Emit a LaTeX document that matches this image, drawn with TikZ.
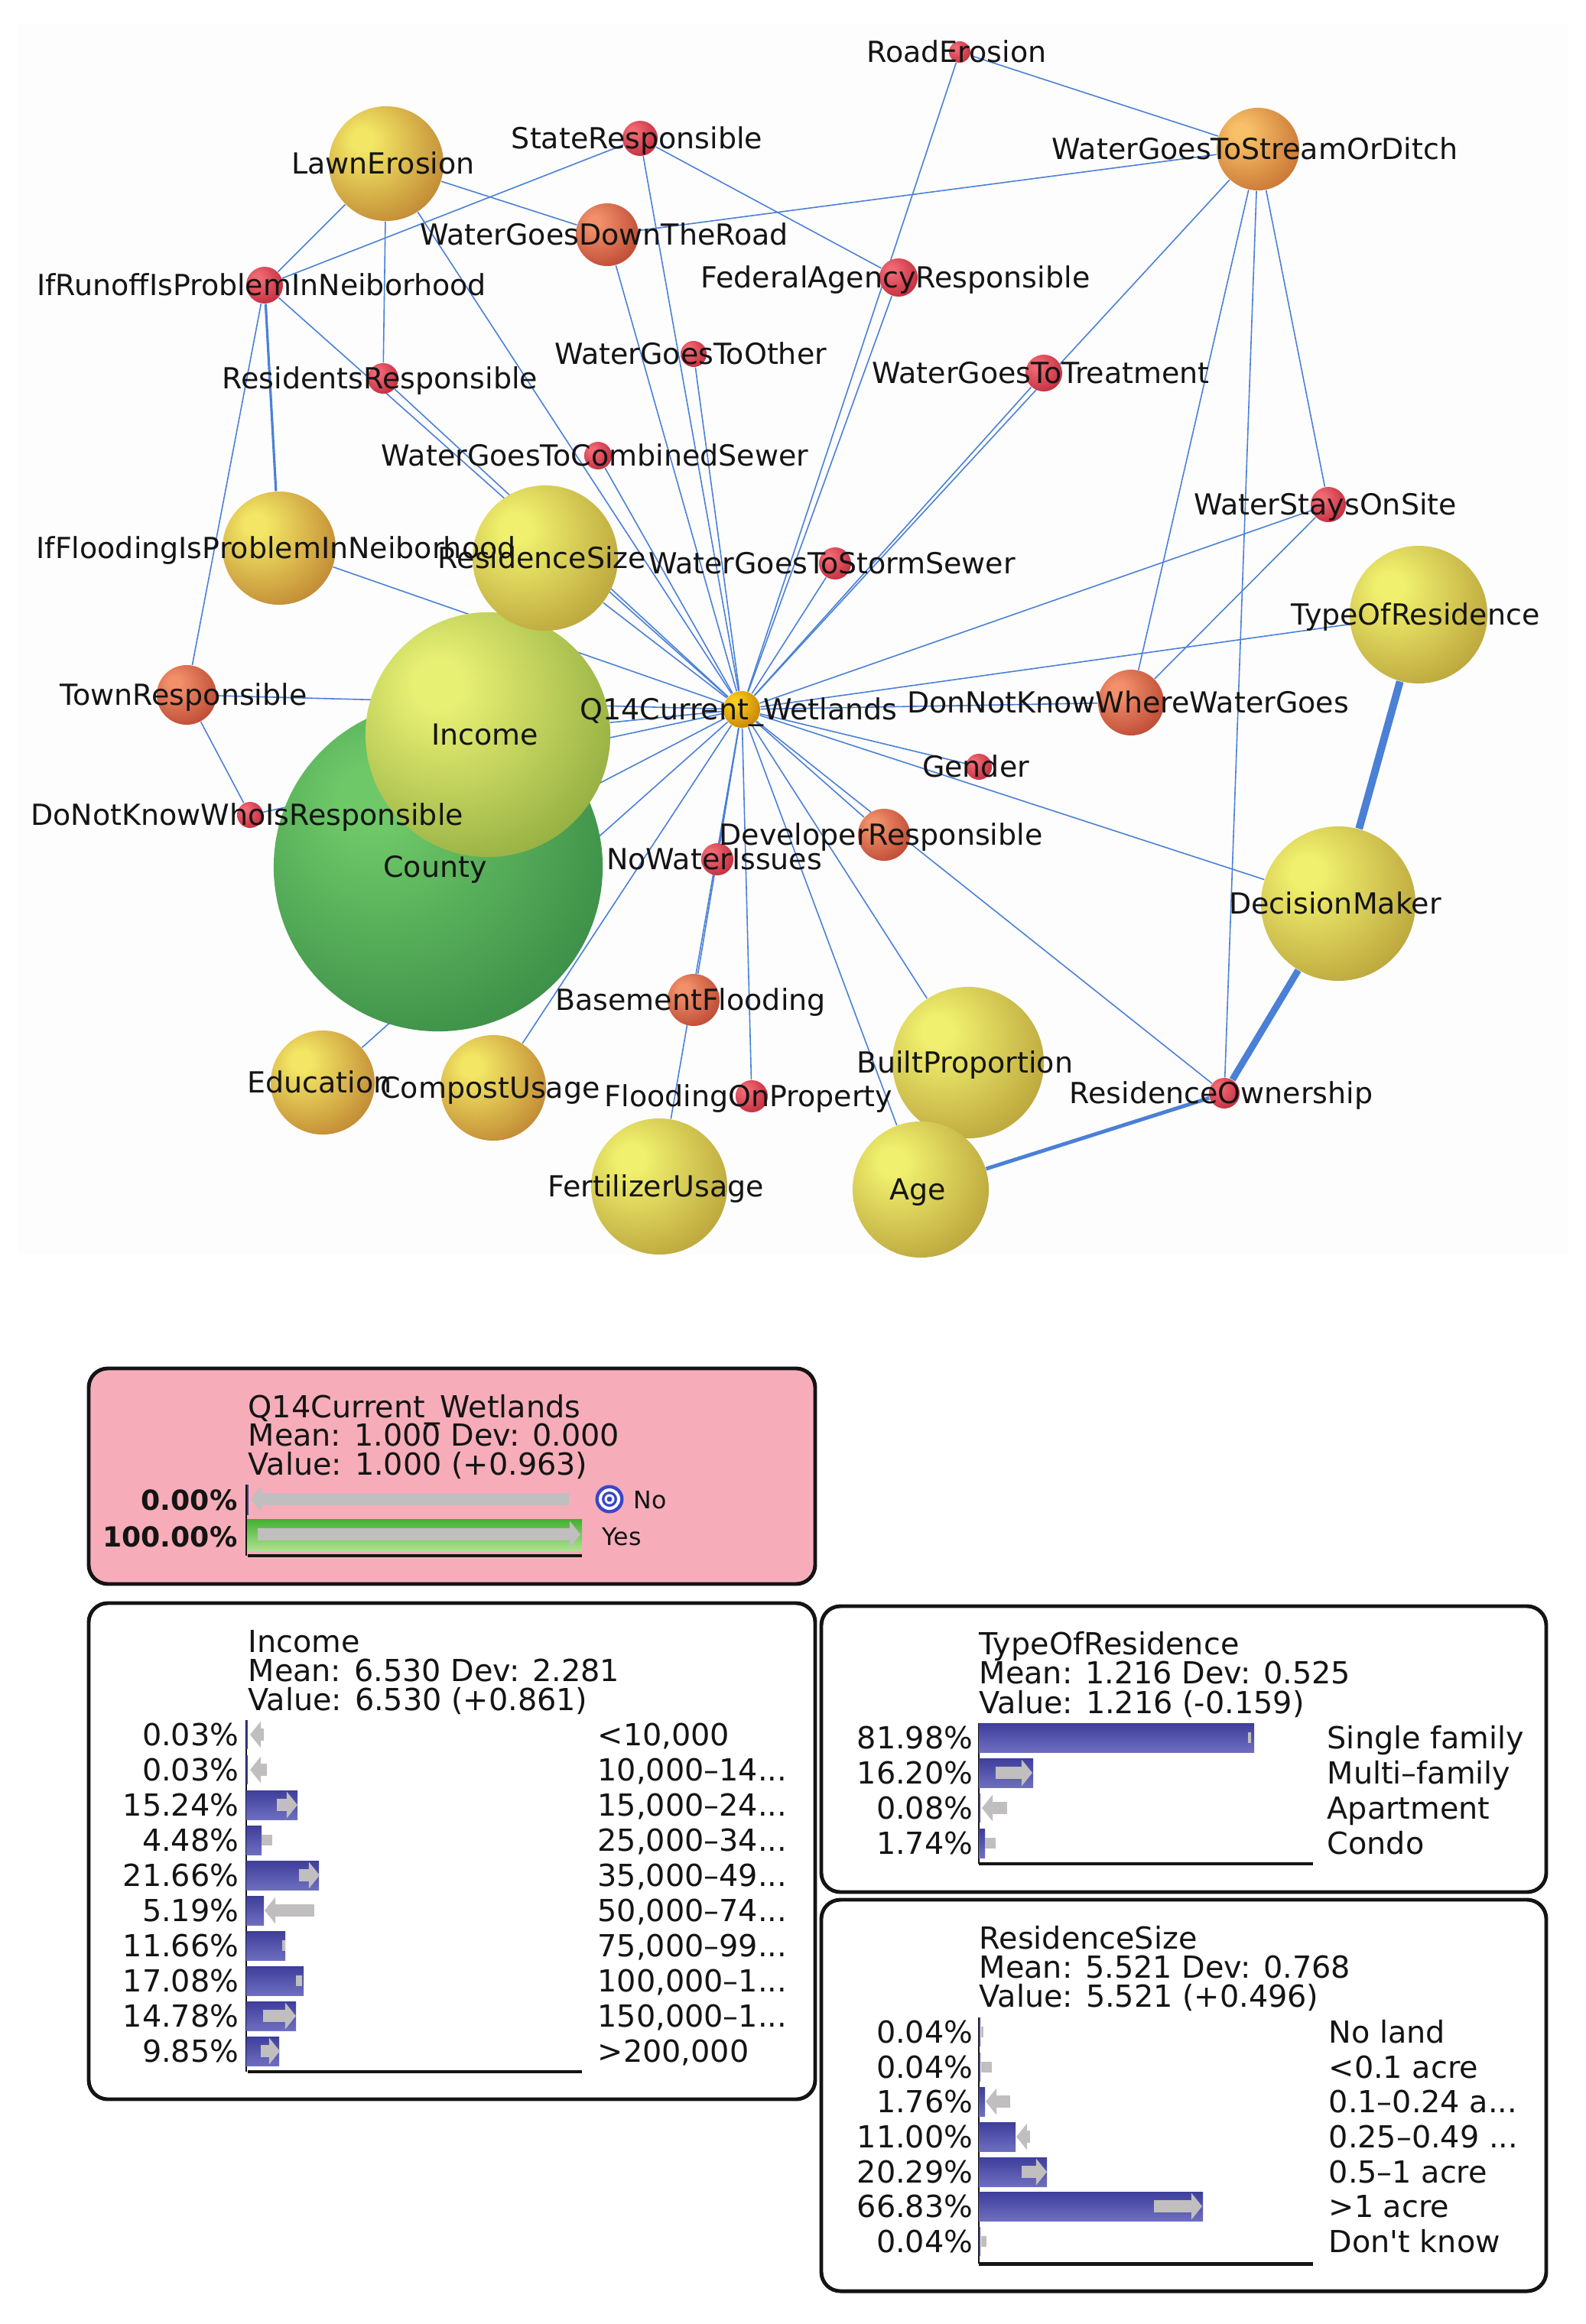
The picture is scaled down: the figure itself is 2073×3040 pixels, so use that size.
\documentclass[tikz,border=0pt]{standalone}
\usepackage{fontspec}
\usepackage{tikz}
\usetikzlibrary{arrows.meta}
\usetikzlibrary{backgrounds}
\usepackage{xcolor}
\newfontfamily\NetFont{DejaVu Sans}
\definecolor{LinkBlue}{RGB}{74,128,214}
\definecolor{GraphBg}{RGB}{253,253,253}
\definecolor{RedIn}{RGB}{240,104,114}
\definecolor{RedOut}{RGB}{184,30,50}
\definecolor{CoralIn}{RGB}{242,144,106}
\definecolor{CoralOut}{RGB}{176,58,40}
\definecolor{AmberIn}{RGB}{242,230,100}
\definecolor{AmberOut}{RGB}{178,108,38}
\definecolor{GoldIn}{RGB}{240,240,110}
\definecolor{GoldOut}{RGB}{168,138,42}
\definecolor{OrangeIn}{RGB}{248,192,104}
\definecolor{OrangeOut}{RGB}{186,96,36}
\definecolor{LimeIn}{RGB}{232,240,116}
\definecolor{LimeOut}{RGB}{112,146,44}
\definecolor{GreenIn}{RGB}{110,200,104}
\definecolor{GreenOut}{RGB}{38,118,58}
\definecolor{HubIn}{RGB}{250,204,28}
\definecolor{HubOut}{RGB}{186,114,0}
\definecolor{PanelPink}{RGB}{246,173,185}
\definecolor{BarTop}{RGB}{62,62,156}
\definecolor{BarBot}{RGB}{110,110,192}
\definecolor{GreenTop}{RGB}{66,176,50}
\definecolor{GreenBot}{RGB}{172,226,142}
\definecolor{ChgGray}{RGB}{192,190,190}
\definecolor{TgtBlue}{RGB}{58,70,200}
\pgfdeclareradialshading{ShadeRed}{\pgfpoint{-11bp}{11bp}}{color(0bp)=(RedIn);color(5bp)=(RedIn);color(42bp)=(RedOut);color(80bp)=(RedOut!80!black)}
\pgfdeclareradialshading{ShadeCoral}{\pgfpoint{-11bp}{11bp}}{color(0bp)=(CoralIn);color(5bp)=(CoralIn);color(42bp)=(CoralOut);color(80bp)=(CoralOut!80!black)}
\pgfdeclareradialshading{ShadeAmber}{\pgfpoint{-11bp}{11bp}}{color(0bp)=(AmberIn);color(5bp)=(AmberIn);color(44bp)=(AmberOut);color(80bp)=(AmberOut!80!black)}
\pgfdeclareradialshading{ShadeGold}{\pgfpoint{-11bp}{11bp}}{color(0bp)=(GoldIn);color(5bp)=(GoldIn);color(46bp)=(GoldOut);color(80bp)=(GoldOut!80!black)}
\pgfdeclareradialshading{ShadeOrange}{\pgfpoint{-11bp}{11bp}}{color(0bp)=(OrangeIn);color(5bp)=(OrangeIn);color(44bp)=(OrangeOut);color(80bp)=(OrangeOut!80!black)}
\pgfdeclareradialshading{ShadeLime}{\pgfpoint{-11bp}{11bp}}{color(0bp)=(LimeIn);color(5bp)=(LimeIn);color(48bp)=(LimeOut);color(80bp)=(LimeOut!80!black)}
\pgfdeclareradialshading{ShadeGreen}{\pgfpoint{-11bp}{11bp}}{color(0bp)=(GreenIn);color(5bp)=(GreenIn);color(48bp)=(GreenOut);color(80bp)=(GreenOut!80!black)}
\pgfdeclareradialshading{ShadeHub}{\pgfpoint{-11bp}{11bp}}{color(0bp)=(HubIn);color(5bp)=(HubIn);color(42bp)=(HubOut);color(80bp)=(HubOut!80!black)}
\tikzstyle{Ball}=[circle,inner sep=0pt,shade]
\tikzstyle{BallRed}=[Ball,shading=ShadeRed]
\tikzstyle{BallCoral}=[Ball,shading=ShadeCoral]
\tikzstyle{BallAmber}=[Ball,shading=ShadeAmber]
\tikzstyle{BallGold}=[Ball,shading=ShadeGold]
\tikzstyle{BallOrange}=[Ball,shading=ShadeOrange]
\tikzstyle{BallLime}=[Ball,shading=ShadeLime]
\tikzstyle{BallGreen}=[Ball,shading=ShadeGreen]
\tikzstyle{BallHub}=[Ball,shading=ShadeHub]
\tikzstyle{EdgeLink}=[LinkBlue,line width=0.45pt]
\tikzstyle{GraphLabel}=[font=\NetFont\fontsize{10.8}{12}\selectfont,inner sep=0pt,text height=7.9pt,text depth=0pt,xshift=-0.04cm,text=black!92]
\tikzstyle{Panel}=[draw=black!92,line width=1.4pt,rounded corners=0.25cm]
\tikzstyle{PanelText}=[font=\NetFont\fontsize{11.3}{13}\selectfont,inner sep=0pt,text height=8.2pt,text depth=0pt,text=black!92]
\tikzstyle{HeadText}=[PanelText,anchor=west]
\tikzstyle{PctText}=[PanelText,anchor=east]
\tikzstyle{CatText}=[PanelText,anchor=west]
\tikzstyle{PctBold}=[PctText,font=\NetFont\bfseries\fontsize{10.3}{12}\selectfont,text height=7.6pt]
\tikzstyle{StateText}=[PanelText,anchor=west,font=\NetFont\fontsize{9}{11}\selectfont,text height=6.6pt]
\tikzstyle{BarFill}=[top color=BarTop,bottom color=BarBot]
\tikzstyle{ChgArrow}=[ChgGray,line width=4.3pt,-{Triangle[length=4pt,width=9.7pt]}]
\tikzstyle{ChgMark}=[fill=ChgGray]
\tikzstyle{AxisLine}=[black!92,line width=1.4pt]
\tikzstyle{BarEdge}=[black!92,line width=0.4pt]
\begin{document}
\begin{tikzpicture}[x=0.01cm,y=-0.01cm]
\useasboundingbox(0,0)rectangle(2073,3040);
\node[BallRed,minimum size=0.28cm](RoadErosion)at(1255,68){};
\node[BallRed,minimum size=0.46cm](StateResponsible)at(837,181){};
\node[BallAmber,minimum size=1.50cm](LawnErosion)at(505,214){};
\node[BallOrange,minimum size=1.08cm](WaterGoesToStreamOrDitch)at(1645,195){};
\node[BallCoral,minimum size=0.82cm](WaterGoesDownTheRoad)at(794,307){};
\node[BallRed,minimum size=0.50cm](FederalAgencyResponsible)at(1175,363){};
\node[BallRed,minimum size=0.48cm](IfRunoffIsProblemInNeiborhood)at(346,373){};
\node[BallRed,minimum size=0.34cm](WaterGoesToOther)at(907,463){};
\node[BallRed,minimum size=0.40cm](ResidentsResponsible)at(501,495){};
\node[BallRed,minimum size=0.48cm](WaterGoesToTreatment)at(1365,488){};
\node[BallRed,minimum size=0.36cm](WaterGoesToCombinedSewer)at(782,596){};
\node[BallRed,minimum size=0.46cm](WaterStaysOnSite)at(1737,660){};
\node[BallAmber,minimum size=1.48cm](IfFloodingIsProblemInNeiborhood)at(365,717){};
\node[BallRed,minimum size=0.42cm](WaterGoesToStormSewer)at(1092,737){};
\node[BallGold,minimum size=1.80cm](TypeOfResidence)at(1855,804){};
\node[BallCoral,minimum size=0.78cm](TownResponsible)at(244,909){};
\node[BallCoral,minimum size=0.86cm](DonNotKnowWhereWaterGoes)at(1479,919){};
\node[BallRed,minimum size=0.34cm](Gender)at(1280,1003){};
\node[BallRed,minimum size=0.34cm](DoNotKnowWhoIsResponsible)at(327,1066){};
\node[BallCoral,minimum size=0.68cm](DeveloperResponsible)at(1156,1092){};
\node[BallRed,minimum size=0.42cm](NoWaterIssues)at(938,1124){};
\node[BallGreen,minimum size=4.30cm](County)at(573,1134){};
\node[BallLime,minimum size=3.20cm](Income)at(638,961){};
\node[BallGold,minimum size=1.90cm](ResidenceSize)at(713,730){};
\node[BallHub,minimum size=0.48cm](Q14)at(970,928){};
\node[BallGold,minimum size=2.02cm](DecisionMaker)at(1750,1182){};
\node[BallCoral,minimum size=0.68cm](BasementFlooding)at(907,1308){};
\node[BallGold,minimum size=1.98cm](BuiltProportion)at(1266,1390){};
\node[BallAmber,minimum size=1.36cm](Education)at(422,1416){};
\node[BallAmber,minimum size=1.38cm](CompostUsage)at(645,1423){};
\node[BallRed,minimum size=0.40cm](ResidenceOwnership)at(1601,1430){};
\node[BallRed,minimum size=0.42cm](FloodingOnProperty)at(983,1434){};
\node[BallGold,minimum size=1.78cm](FertilizerUsage)at(862,1552){};
\node[BallGold,minimum size=1.78cm](Age)at(1204,1556){};
\begin{scope}[on background layer]
\fill[GraphBg](23,31)rectangle(2051,1641);
\draw[EdgeLink](Q14)--(RoadErosion);
\draw[EdgeLink](Q14)--(FederalAgencyResponsible);
\draw[EdgeLink](Q14)--(StateResponsible);
\draw[EdgeLink](Q14)--(LawnErosion);
\draw[EdgeLink](Q14)--(IfRunoffIsProblemInNeiborhood);
\draw[EdgeLink](Q14)--(ResidentsResponsible);
\draw[EdgeLink](Q14)--(WaterGoesDownTheRoad);
\draw[EdgeLink](Q14)--(WaterGoesToOther);
\draw[EdgeLink](Q14)--(WaterGoesToCombinedSewer);
\draw[EdgeLink](Q14)--(IfFloodingIsProblemInNeiborhood);
\draw[EdgeLink](Q14)--(ResidenceSize);
\draw[EdgeLink](Q14)--(WaterGoesToStormSewer);
\draw[EdgeLink](Q14)--(WaterGoesToTreatment);
\draw[EdgeLink](Q14)--(WaterGoesToStreamOrDitch);
\draw[EdgeLink](Q14)--(WaterStaysOnSite);
\draw[EdgeLink](Q14)--(TypeOfResidence);
\draw[EdgeLink](Q14)--(DonNotKnowWhereWaterGoes);
\draw[EdgeLink](Q14)--(Gender);
\draw[EdgeLink](Q14)--(DecisionMaker);
\draw[EdgeLink](Q14)--(DeveloperResponsible);
\draw[EdgeLink](Q14)--(ResidenceOwnership);
\draw[EdgeLink](Q14)--(BuiltProportion);
\draw[EdgeLink](Q14)--(Age);
\draw[EdgeLink](Q14)--(FloodingOnProperty);
\draw[EdgeLink](Q14)--(NoWaterIssues);
\draw[EdgeLink](Q14)--(BasementFlooding);
\draw[EdgeLink](Q14)--(FertilizerUsage);
\draw[EdgeLink](Q14)--(CompostUsage);
\draw[EdgeLink](Q14)--(Education);
\draw[EdgeLink](Q14)--(County);
\draw[EdgeLink](Q14)--(Income);
\draw[EdgeLink](Q14)--(DoNotKnowWhoIsResponsible);
\draw[EdgeLink](Q14)--(TownResponsible);
\draw[EdgeLink](RoadErosion)--(WaterGoesToStreamOrDitch);
\draw[EdgeLink](WaterGoesDownTheRoad)--(WaterGoesToStreamOrDitch);
\draw[EdgeLink](StateResponsible)--(IfRunoffIsProblemInNeiborhood);
\draw[EdgeLink](StateResponsible)--(FederalAgencyResponsible);
\draw[EdgeLink](LawnErosion)--(WaterGoesDownTheRoad);
\draw[EdgeLink](LawnErosion)--(IfRunoffIsProblemInNeiborhood);
\draw[EdgeLink](LawnErosion)--(ResidentsResponsible);
\draw[EdgeLink,line width=0.9pt](IfRunoffIsProblemInNeiborhood)--(IfFloodingIsProblemInNeiborhood);
\draw[EdgeLink](IfRunoffIsProblemInNeiborhood)--(TownResponsible);
\draw[EdgeLink](TownResponsible)--(DoNotKnowWhoIsResponsible);
\draw[EdgeLink](WaterGoesToStreamOrDitch)--(DonNotKnowWhereWaterGoes);
\draw[EdgeLink](WaterGoesToStreamOrDitch)--(ResidenceOwnership);
\draw[EdgeLink](WaterGoesToStreamOrDitch)--(WaterStaysOnSite);
\draw[EdgeLink](WaterStaysOnSite)--(DonNotKnowWhereWaterGoes);
\draw[EdgeLink,line width=2.8pt](TypeOfResidence)--(DecisionMaker);
\draw[EdgeLink,line width=2.5pt](DecisionMaker)--(ResidenceOwnership);
\draw[EdgeLink,line width=1.4pt](Age)--(ResidenceOwnership);
\end{scope}
\node[GraphLabel](LRoadErosion)at(RoadErosion){RoadErosion};
\node[GraphLabel](LStateResponsible)at(StateResponsible){StateResponsible};
\node[GraphLabel](LLawnErosion)at(LawnErosion){LawnErosion};
\node[GraphLabel](LWaterGoesToStreamOrDitch)at(WaterGoesToStreamOrDitch){WaterGoesToStreamOrDitch};
\node[GraphLabel](LWaterGoesDownTheRoad)at(WaterGoesDownTheRoad){WaterGoesDownTheRoad};
\node[GraphLabel](LFederalAgencyResponsible)at(FederalAgencyResponsible){FederalAgencyResponsible};
\node[GraphLabel](LIfRunoffIsProblemInNeiborhood)at(IfRunoffIsProblemInNeiborhood){IfRunoffIsProblemInNeiborhood};
\node[GraphLabel](LWaterGoesToOther)at(WaterGoesToOther){WaterGoesToOther};
\node[GraphLabel](LResidentsResponsible)at(ResidentsResponsible){ResidentsResponsible};
\node[GraphLabel](LWaterGoesToTreatment)at(WaterGoesToTreatment){WaterGoesToTreatment};
\node[GraphLabel](LWaterGoesToCombinedSewer)at(WaterGoesToCombinedSewer){WaterGoesToCombinedSewer};
\node[GraphLabel](LWaterStaysOnSite)at(WaterStaysOnSite){WaterStaysOnSite};
\node[GraphLabel](LIfFloodingIsProblemInNeiborhood)at(IfFloodingIsProblemInNeiborhood){IfFloodingIsProblemInNeiborhood};
\node[GraphLabel](LResidenceSize)at(ResidenceSize){ResidenceSize};
\node[GraphLabel](LWaterGoesToStormSewer)at(WaterGoesToStormSewer){WaterGoesToStormSewer};
\node[GraphLabel](LTypeOfResidence)at(TypeOfResidence){TypeOfResidence};
\node[GraphLabel](LTownResponsible)at(TownResponsible){TownResponsible};
\node[GraphLabel](LDonNotKnowWhereWaterGoes)at(DonNotKnowWhereWaterGoes){DonNotKnowWhereWaterGoes};
\node[GraphLabel](LQ14)at(Q14){Q14Current\_Wetlands};
\node[GraphLabel](LIncome)at(Income){Income};
\node[GraphLabel](LGender)at(Gender){Gender};
\node[GraphLabel](LDoNotKnowWhoIsResponsible)at(DoNotKnowWhoIsResponsible){DoNotKnowWhoIsResponsible};
\node[GraphLabel](LDeveloperResponsible)at(DeveloperResponsible){DeveloperResponsible};
\node[GraphLabel](LNoWaterIssues)at(NoWaterIssues){NoWaterIssues};
\node[GraphLabel](LCounty)at(County){County};
\node[GraphLabel](LDecisionMaker)at(DecisionMaker){DecisionMaker};
\node[GraphLabel](LBasementFlooding)at(BasementFlooding){BasementFlooding};
\node[GraphLabel](LBuiltProportion)at(BuiltProportion){BuiltProportion};
\node[GraphLabel](LEducation)at(Education){Education};
\node[GraphLabel](LCompostUsage)at(CompostUsage){CompostUsage};
\node[GraphLabel](LResidenceOwnership)at(ResidenceOwnership){ResidenceOwnership};
\node[GraphLabel](LFloodingOnProperty)at(FloodingOnProperty){FloodingOnProperty};
\node[GraphLabel](LFertilizerUsage)at(FertilizerUsage){FertilizerUsage};
\node[GraphLabel](LAge)at(Age){Age};
\draw[Panel,fill=PanelPink](116,1790)rectangle(1066,2072);
\node[HeadText](q14title)at(324,1840){Q14Current\_Wetlands};
\node[HeadText](q14mean)at(324,1877){Mean: 1.000 Dev: 0.000};
\node[HeadText](q14value)at(324,1915){Value: 1.000 (+0.963)};
\node[PctBold](q14p1)at(311,1962){0.00\%};
\fill[BarTop](322,1942)rectangle(325,1982);
\draw[ChgArrow](744,1961)--(328,1961);
\node[PctBold](q14p2)at(311,2010){100.00\%};
\fill[top color=GreenTop,bottom color=GreenBot](322,1987)rectangle(761,2028);
\draw[ChgArrow](337,2007)--(759,2007);
\fill[TgtBlue](797,1961)circle[radius=0.185cm];
\fill[white](797,1961)circle[radius=0.14cm];
\fill[TgtBlue](797,1961)circle[radius=0.10cm];
\fill[white](797,1961)circle[radius=0.065cm];
\fill[TgtBlue](797,1961)circle[radius=0.035cm];
\node[StateText](q14no)at(828,1962){No};
\node[StateText](q14yes)at(787,2010){Yes};
\draw[BarEdge](322,1942)--(322,2035);
\draw[AxisLine](324,2035)--(761,2035);
\draw[Panel](116,2097)rectangle(1066,2746);
\node[HeadText](inctitle)at(324,2147){Income};
\node[HeadText](incmean)at(324,2185){Mean: 6.530 Dev: 2.281};
\node[HeadText](incvalue)at(324,2223){Value: 6.530 (+0.861)};
\draw[BarEdge](322,2250)--(322,2710);
\node[PctText](incp1)at(313,2269){0.03\%};
\fill[BarTop](322,2250)rectangle(324,2288);
\draw[ChgArrow](345,2269)--(327,2269);
\node[CatText](incl1)at(781,2269){<10,000};
\node[PctText](incp2)at(313,2315){0.03\%};
\fill[BarTop](322,2296)rectangle(324,2334);
\draw[ChgArrow](349,2315)--(327,2315);
\node[CatText](incl2)at(781,2315){10,000–14...};
\node[PctText](incp3)at(313,2361){15.24\%};
\fill[BarFill](322,2342)rectangle(389,2380);
\draw[ChgArrow](362,2361)--(389,2361);
\node[CatText](incl3)at(781,2361){15,000–24...};
\node[PctText](incp4)at(313,2407){4.48\%};
\fill[BarFill](322,2388)rectangle(342,2426);
\fill[ChgMark](342,2400)rectangle(356,2414);
\node[CatText](incl4)at(781,2407){25,000–34...};
\node[PctText](incp5)at(313,2453){21.66\%};
\fill[BarFill](322,2434)rectangle(417,2472);
\draw[ChgArrow](391,2453)--(418,2453);
\node[CatText](incl5)at(781,2453){35,000–49...};
\node[PctText](incp6)at(313,2499){5.19\%};
\fill[BarFill](322,2480)rectangle(345,2518);
\draw[ChgArrow](411,2499)--(346,2499);
\node[CatText](incl6)at(781,2499){50,000–74...};
\node[PctText](incp7)at(313,2545){11.66\%};
\fill[BarFill](322,2526)rectangle(373,2564);
\fill[ChgMark](369,2538)rectangle(373,2552);
\node[CatText](incl7)at(781,2545){75,000–99...};
\node[PctText](incp8)at(313,2591){17.08\%};
\fill[BarFill](322,2572)rectangle(397,2610);
\fill[ChgMark](387,2584)rectangle(395,2598);
\node[CatText](incl8)at(781,2591){100,000–1...};
\node[PctText](incp9)at(313,2637){14.78\%};
\fill[BarFill](322,2618)rectangle(387,2656);
\draw[ChgArrow](344,2637)--(387,2637);
\node[CatText](incl9)at(781,2637){150,000–1...};
\node[PctText](incp10)at(313,2683){9.85\%};
\fill[BarFill](322,2664)rectangle(365,2702);
\draw[ChgArrow](341,2683)--(366,2683);
\node[CatText](incl10)at(781,2683){>200,000};
\draw[AxisLine](324,2710)--(761,2710);
\draw[Panel](1074,2101)rectangle(2022,2475);
\node[HeadText](typtitle)at(1280,2150){TypeOfResidence};
\node[HeadText](typmean)at(1280,2188){Mean: 1.216 Dev: 0.525};
\node[HeadText](typvalue)at(1280,2227){Value: 1.216 (-0.159)};
\draw[BarEdge](1280,2254)--(1280,2438);
\node[PctText](typp1)at(1273,2273){81.98\%};
\fill[BarFill](1280,2254)rectangle(1640,2292);
\fill[ChgMark](1632,2266)rectangle(1636,2280);
\node[CatText](typl1)at(1735,2273){Single family};
\node[PctText](typp2)at(1273,2319){16.20\%};
\fill[BarFill](1280,2300)rectangle(1351,2338);
\draw[ChgArrow](1302,2319)--(1350,2319);
\node[CatText](typl2)at(1735,2319){Multi–family};
\node[PctText](typp3)at(1273,2365){0.08\%};
\fill[BarTop](1280,2346)rectangle(1282,2384);
\draw[ChgArrow](1317,2365)--(1284,2365);
\node[CatText](typl3)at(1735,2365){Apartment};
\node[PctText](typp4)at(1273,2411){1.74\%};
\fill[BarFill](1280,2392)rectangle(1288,2430);
\fill[ChgMark](1288,2404)rectangle(1302,2418);
\node[CatText](typl4)at(1735,2411){Condo};
\draw[AxisLine](1280,2438)--(1717,2438);
\draw[Panel](1074,2485)rectangle(2022,2997);
\node[HeadText](siztitle)at(1280,2535){ResidenceSize};
\node[HeadText](sizmean)at(1280,2573){Mean: 5.521 Dev: 0.768};
\node[HeadText](sizvalue)at(1280,2611){Value: 5.521 (+0.496)};
\draw[BarEdge](1280,2639)--(1280,2961);
\node[PctText](sizp1)at(1273,2658){0.04\%};
\fill[BarTop](1280,2639)rectangle(1282,2677);
\fill[ChgMark](1283,2651)rectangle(1286,2665);
\node[CatText](sizl1)at(1737,2658){No land};
\node[PctText](sizp2)at(1273,2704){0.04\%};
\fill[BarTop](1280,2685)rectangle(1282,2723);
\fill[ChgMark](1283,2697)rectangle(1297,2711);
\node[CatText](sizl2)at(1737,2704){<0.1 acre};
\node[PctText](sizp3)at(1273,2749){1.76\%};
\fill[BarFill](1280,2730)rectangle(1288,2768);
\draw[ChgArrow](1321,2749)--(1289,2749);
\node[CatText](sizl3)at(1737,2749){0.1–0.24 a...};
\node[PctText](sizp4)at(1273,2795){11.00\%};
\fill[BarFill](1280,2776)rectangle(1328,2814);
\draw[ChgArrow](1347,2795)--(1329,2795);
\node[CatText](sizl4)at(1737,2795){0.25–0.49 ...};
\node[PctText](sizp5)at(1273,2841){20.29\%};
\fill[BarFill](1280,2822)rectangle(1369,2860);
\draw[ChgArrow](1336,2841)--(1369,2841);
\node[CatText](sizl5)at(1737,2841){0.5–1 acre};
\node[PctText](sizp6)at(1273,2886){66.83\%};
\fill[BarFill](1280,2867)rectangle(1573,2905);
\draw[ChgArrow](1509,2886)--(1572,2886);
\node[CatText](sizl6)at(1737,2886){>1 acre};
\node[PctText](sizp7)at(1273,2932){0.04\%};
\fill[BarTop](1280,2913)rectangle(1282,2951);
\fill[ChgMark](1283,2925)rectangle(1290,2939);
\node[CatText](sizl7)at(1737,2932){Don't know};
\draw[AxisLine](1280,2961)--(1717,2961);
\end{tikzpicture}
\end{document}
